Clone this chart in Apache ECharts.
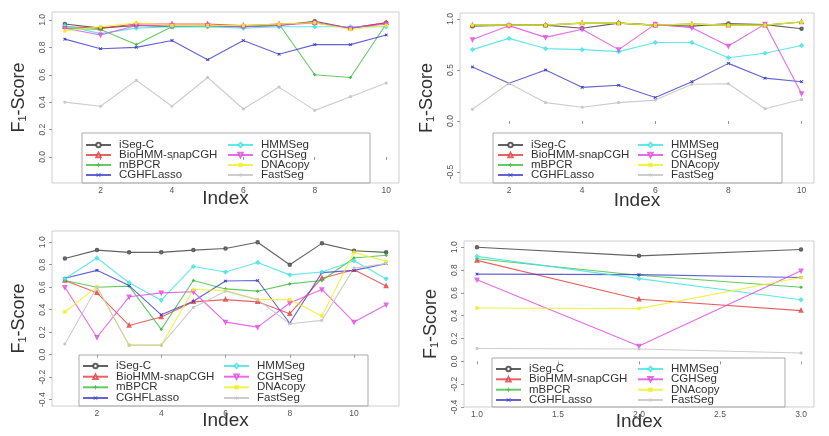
<!DOCTYPE html>
<html><head><meta charset="utf-8">
<script src="https://cdn.jsdelivr.net/npm/echarts@6/dist/echarts.min.js"></script>
<style>html,body{margin:0;padding:0;background:#fff}#c{width:829px;height:436px}</style>
</head><body><div id="c"></div>
<script>
const methods = ['iSeg-C','BioHMM-snapCGH','mBPCR','CGHFLasso','HMMSeg','CGHSeg','DNAcopy','FastSeg'];
const idxA = [1,2,3,4,5,6,7,8,9,10];
const idxB = [1,2,3,4,5,6,7,8,9,10];
const idxC = [1,2,3,4,5,6,7,8,9,10,11];
const idxD = [1,2,3];

// Panel A (top-left)
const a_iSegC   = [0.97,0.94,0.96,0.95,0.96,0.95,0.96,0.99,0.94,0.98];
const a_BioHMM  = [0.95,0.94,0.97,0.97,0.97,0.96,0.97,0.98,0.94,0.98];
const a_mBPCR   = [0.94,0.93,0.82,0.95,0.95,0.95,0.97,0.60,0.58,0.97];
const a_CGHFL   = [0.86,0.79,0.80,0.85,0.71,0.85,0.75,0.82,0.82,0.89];
const a_HMMSeg  = [0.96,0.90,0.94,0.95,0.95,0.94,0.95,0.95,0.95,0.95];
const a_CGHSeg  = [0.94,0.89,0.96,0.96,0.96,0.95,0.96,0.98,0.94,0.97];
const a_DNAcopy = [0.92,0.95,0.98,0.96,0.96,0.96,0.97,0.98,0.93,0.96];
const a_FastSeg = [0.40,0.37,0.56,0.37,0.58,0.35,0.51,0.34,0.44,0.54];

// Panel B (top-right)
const b_iSegC   = [0.93,0.94,0.94,0.91,0.96,0.94,0.93,0.955,0.945,0.905];
const b_BioHMM  = [0.94,0.94,0.94,0.96,0.96,0.94,0.95,0.94,0.94,0.97];
const b_mBPCR   = [0.94,0.94,0.94,0.96,0.96,0.94,0.95,0.94,0.94,0.97];
const b_CGHFL   = [0.53,0.37,0.50,0.33,0.35,0.23,0.385,0.565,0.42,0.385];
const b_HMMSeg  = [0.70,0.81,0.71,0.70,0.68,0.77,0.77,0.62,0.665,0.74];
const b_CGHSeg  = [0.80,0.935,0.82,0.90,0.70,0.95,0.915,0.735,0.95,0.27];
const b_DNAcopy = [0.94,0.94,0.94,0.96,0.96,0.94,0.95,0.94,0.94,0.97];
const b_FastSeg = [0.115,0.37,0.18,0.135,0.18,0.205,0.36,0.365,0.12,0.21];

// Panel C (bottom-left)
const c_iSegC   = [0.855,0.93,0.91,0.91,0.93,0.945,1.0,0.80,0.99,0.925,0.91];
const c_BioHMM  = [0.66,0.55,0.26,0.335,0.47,0.49,0.47,0.365,0.68,0.755,0.61];
const c_mBPCR   = [0.66,0.60,0.61,0.225,0.66,0.585,0.565,0.63,0.66,0.86,0.885];
const c_CGHFL   = [0.68,0.75,0.615,0.355,0.475,0.655,0.66,0.28,0.73,0.75,0.81];
const c_HMMSeg  = [0.675,0.86,0.64,0.485,0.785,0.735,0.82,0.71,0.735,0.835,0.675];
const c_CGHSeg  = [0.60,0.155,0.515,0.55,0.56,0.29,0.245,0.46,0.58,0.29,0.445];
const c_DNAcopy = [0.38,0.605,0.085,0.085,0.58,0.57,0.49,0.49,0.345,0.91,0.83];
const c_FastSeg = [0.095,0.60,0.085,0.085,0.42,0.565,0.49,0.275,0.305,0.77,0.81];

// Panel D (bottom-right)
const d_iSegC   = [1.0,0.925,0.98];
const d_BioHMM  = [0.885,0.545,0.445];
const d_mBPCR   = [0.90,0.755,0.65];
const d_CGHFL   = [0.765,0.76,0.735];
const d_HMMSeg  = [0.92,0.725,0.54];
const d_CGHSeg  = [0.715,0.135,0.795];
const d_DNAcopy = [0.468,0.462,0.735];
const d_FastSeg = [0.113,0.108,0.073];

const colors = ['rgba(70,70,70,0.85)','rgba(225,60,60,0.8)','rgba(60,190,60,0.8)','rgba(60,60,200,0.8)',
                'rgba(60,225,225,0.8)','rgba(225,70,225,0.8)','rgba(240,240,40,0.85)','rgba(200,200,200,0.9)'];
const symbols = ['emptyCircle','emptyTriangle',
  'path://M4,0H6V4H10V6H6V10H4V6H0V4H4Z',
  'path://M1,0L5,4L9,0L10,1L6,5L10,9L9,10L5,6L1,10L0,9L4,5L0,1Z',
  'emptyDiamond','emptyTriangle','rect',
  'path://M4.4,0H5.6V3.6L8.7,1.6L9.3,2.6L6.2,4.5L9.3,6.4L8.7,7.4L5.6,5.4V9H4.4V5.4L1.3,7.4L0.7,6.4L3.8,4.5L0.7,2.6L1.3,1.6L4.4,3.6Z'];
const symbolRot = [0,0,0,0,0,180,0,0];

const panels = [
  {idx: idxA, vals:[a_iSegC,a_BioHMM,a_mBPCR,a_CGHFL,a_HMMSeg,a_CGHSeg,a_DNAcopy,a_FastSeg]},
  {idx: idxB, vals:[b_iSegC,b_BioHMM,b_mBPCR,b_CGHFL,b_HMMSeg,b_CGHSeg,b_DNAcopy,b_FastSeg]},
  {idx: idxC, vals:[c_iSegC,c_BioHMM,c_mBPCR,c_CGHFL,c_HMMSeg,c_CGHSeg,c_DNAcopy,c_FastSeg]},
  {idx: idxD, vals:[d_iSegC,d_BioHMM,d_mBPCR,d_CGHFL,d_HMMSeg,d_CGHSeg,d_DNAcopy,d_FastSeg]}
];

const xTicksA = [2,4,6,8,10], xTicksB = [2,4,6,8,10], xTicksC = [2,4,6,8,10], xTicksD = [1.0,1.5,2.0,2.5,3.0];
const yTicksA = [0.0,0.2,0.4,0.6,0.8,1.0];
const yTicksB = [-0.5,0.0,0.5,1.0];
const yTicksC = [-0.4,-0.2,0.0,0.2,0.4,0.6,0.8,1.0];
const yTicksD = [-0.4,-0.2,0.0,0.2,0.4,0.6,0.8,1.0];

const layout = [
  {grid:{left:52,top:12,width:347,height:171}, x:[0.64,10.36], y:[-0.19,1.058], xt:xTicksA, yt:yTicksA, xd:0, ng:16,
   cols:[85,227], rows:[144,154,164,174], box:[82,133,288,50]},
  {grid:{left:460,top:13,width:354,height:170}, x:[0.66,10.34], y:[-0.608,1.059], xt:xTicksB, yt:yTicksB, xd:0, ng:18,
   cols:[497,637], rows:[144,154,164,174], box:[493,133,289,50]},
  {grid:{left:52,top:231,width:347,height:175}, x:[0.6,11.4], y:[-0.456,1.10], xt:xTicksC, yt:yTicksC, xd:0, ng:15,
   cols:[82,223], rows:[365,375.7,386.3,397], box:[79,355,289,51]},
  {grid:{left:464,top:241,width:350,height:166}, x:[0.92,3.08], y:[-0.4,1.055], xt:xTicksD, yt:yTicksD, xd:1, ng:15,
   cols:[495,637], rows:[368,378.3,388.7,399], box:[492,358,293,49]}
];

const grids=[], xAxes=[], yAxes=[], series=[], legends=[], graphics=[];
layout.forEach((L,p)=>{
  grids.push(Object.assign({show:true,borderColor:'#cfcfcf',borderWidth:1,backgroundColor:'transparent'},L.grid));
  xAxes.push({type:'value',gridIndex:p,min:L.x[0],max:L.x[1],
    name:'Index',nameLocation:'middle',nameGap:L.ng,nameMoveOverlap:false,
    nameTextStyle:{fontSize:19,color:'#333',fontFamily:'Liberation Sans',verticalAlign:'middle'},
    axisLine:{show:false},splitLine:{show:false},
    axisTick:{show:true,length:3,customValues:L.xt,lineStyle:{color:'#999'}},
    axisLabel:{customValues:L.xt,fontSize:8.5,color:'#555',margin:3,fontFamily:'Liberation Sans',
      formatter:v=> L.xd? v.toFixed(1): String(Math.round(v))}});
  yAxes.push({type:'value',gridIndex:p,min:L.y[0],max:L.y[1],
    name:'F\u2081-Score',nameLocation:'middle',nameGap:24,nameMoveOverlap:false,
    nameTextStyle:{fontSize:18,color:'#333',fontFamily:'Liberation Sans'},
    axisLine:{show:false},splitLine:{show:false},
    axisTick:{show:true,length:3,customValues:L.yt,lineStyle:{color:'#999'}},
    axisLabel:{customValues:L.yt,fontSize:8.5,color:'#555',rotate:90,margin:5,fontFamily:'Liberation Sans',
      formatter:v=> v.toFixed(1)}});
  const P = panels[p];
  methods.forEach((m,i)=>{
    series.push({type:'line',name:m,xAxisIndex:p,yAxisIndex:p,
      data:P.idx.map((x,k)=>[x,P.vals[i][k]]),
      symbol:symbols[i],symbolRotate:symbolRot[i],symbolSize:2.5,showAllSymbol:true,
      lineStyle:{width:1.1,color:colors[i]},itemStyle:{color:colors[i],borderColor:colors[i]},
      emphasis:{disabled:true},animation:false,silent:true});
    legends.push({orient:'horizontal',left:L.cols[Math.floor(i/4)],top:L.rows[i%4]-5,
      itemWidth:25,itemHeight:5.5,padding:0,selectedMode:false,
      lineStyle:{width:2},
      data:[m],
      textStyle:{fontSize:11.5,color:'#333',fontFamily:'Liberation Sans',padding:[0,0,0,3]}});
  });
  graphics.push({type:'rect',shape:{x:L.box[0],y:L.box[1],width:L.box[2],height:L.box[3]},
    style:{fill:'none',stroke:'#aaa',lineWidth:1},silent:true});
});

const chart = echarts.init(document.getElementById('c'),null,{renderer:'canvas'});
chart.setOption({animation:false,backgroundColor:'#fff',grid:grids,xAxis:xAxes,yAxis:yAxes,series:series,legend:legends,graphic:graphics});
</script></body></html>
